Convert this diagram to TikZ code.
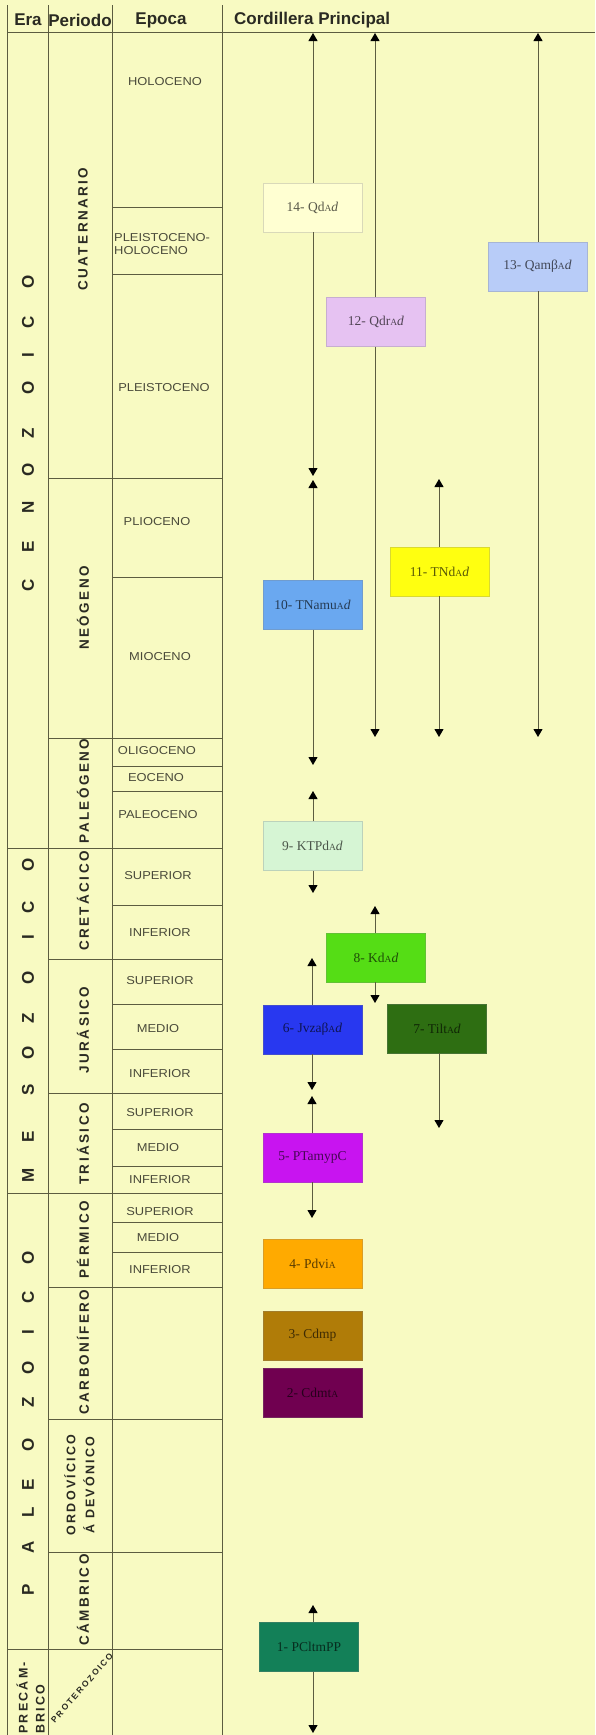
\documentclass[tikz,border=0pt]{standalone}
\usepackage{fontspec}
\setmainfont{Liberation Sans}
\newfontfamily\serifL{Liberation Serif}
\newfontfamily\perfont[LetterSpace=18]{Liberation Sans}
\newfontfamily\protfont[LetterSpace=22]{Liberation Sans}
\newfontfamily\epfont[FakeStretch=1.12]{Liberation Sans}
\usetikzlibrary{arrows.meta}
\definecolor{bgc}{HTML}{F8FAC2}
\definecolor{linec}{HTML}{5C5C40}
\definecolor{txtc}{HTML}{2A2A22}
\definecolor{eptc}{HTML}{4A4A3A}
\definecolor{c14}{HTML}{FFFFD2}
\definecolor{c12}{HTML}{E6C2F2}
\definecolor{c13}{HTML}{B8CCF8}
\definecolor{c10}{HTML}{6AA8F0}
\definecolor{c11}{HTML}{FFFF10}
\definecolor{c9}{HTML}{D6F5D4}
\definecolor{c8}{HTML}{55DD15}
\definecolor{c6}{HTML}{2838F0}
\definecolor{c7}{HTML}{2E6E12}
\definecolor{c5}{HTML}{C814F0}
\definecolor{c4}{HTML}{FFAA00}
\definecolor{c3}{HTML}{B07C08}
\definecolor{c2}{HTML}{700050}
\definecolor{c1}{HTML}{138058}
\newcommand\sA{{\fontsize{9.5}{9.5}\selectfont A}}
\tikzset{
  grid/.style={draw=linec, line width=0.8pt},
  hdr/.style={font=\fontsize{17}{17}\selectfont\bfseries, text=txtc, inner sep=0pt},
  eraL/.style={font=\fontsize{17}{17}\selectfont\bfseries, text=txtc, rotate=90, inner sep=0pt},
  perL/.style={font=\perfont\fontsize{13.5}{16}\selectfont\bfseries, text=txtc, rotate=90, inner sep=0pt, align=center},
  epL/.style={font=\epfont\fontsize{11.5}{13}\selectfont, text=eptc, inner sep=0pt},
  box/.style={draw=#1!70!gray, fill=#1, minimum width=99pt, minimum height=49pt, inner sep=0pt,
     font=\serifL\fontsize{13.5}{13.5}\selectfont, text=#1!35!black},
  arr/.style={draw=linec, line width=1pt, -{Triangle[width=9pt,length=8pt,color=black]}},
}
\begin{document}
\begin{tikzpicture}[x=1pt,y=-1pt]
\useasboundingbox (0,0) rectangle (595,1735);
\fill[bgc] (0,0) rectangle (595,1735);
% vertical grid lines
\draw[grid] (7,5) -- (7,1735);
\draw[grid] (48,5) -- (48,1735);
\draw[grid] (112,5) -- (112,1735);
\draw[grid] (222,5) -- (222,1735);
% header line
\draw[grid] (7,32) -- (595,32);
% era boundaries
\foreach \y in {848,1193,1649} \draw[grid] (7,\y) -- (222,\y);
% period boundaries
\foreach \y in {478,738,959,1093,1287,1419,1552} \draw[grid] (48,\y) -- (222,\y);
% epoch boundaries
\foreach \y in {207,274,577,766,791,905,1004,1049,1129,1166,1222,1252} \draw[grid] (112,\y) -- (222,\y);
% headers
\node[hdr] (hEra) at (28,20) {Era};
\node[hdr] (hPer) at (80,20) {Periodo};
\node[hdr] (hEp) at (161,20) {Epoca};
\node[hdr, anchor=west] (hCor) at (234,20) {Cordillera Principal};
% era letters
\foreach \l/\y [count=\i] in {C/585,E/547,N/507,O/470,Z/433,O/388,I/355,C/322,O/282}
  \node[eraL] (cz\i) at (28,\y) {\l};
\foreach \l/\y [count=\i] in {M/1175,E/1137,S/1090,O/1053,Z/1018,O/978,I/937,C/907,O/865}
  \node[eraL] (mz\i) at (28,\y) {\l};
\foreach \l/\y [count=\i] in {P/1590,A/1547,L/1512,E/1485,O/1445,Z/1402,O/1368,I/1332,C/1297,O/1258}
  \node[eraL] (pz\i) at (28,\y) {\l};
\node[perL, anchor=south west, font=\perfont\fontsize{12.5}{14}\selectfont\bfseries] (prec1) at (28,1734) {PRECÁM-};
\node[perL, anchor=south west, font=\perfont\fontsize{12.5}{14}\selectfont\bfseries] (prec2) at (45,1734) {BRICO};
% periods
\node[perL] (pCua) at (83,229) {CUATERNARIO};
\node[perL] (pNeo) at (83,608) {NEÓGENO};
\node[perL] (pPal) at (83,791) {PALEÓGENO};
\node[perL] (pCre) at (83,901) {CRETÁCICO};
\node[perL] (pJur) at (83,1030) {JURÁSICO};
\node[perL] (pTri) at (83,1144) {TRIÁSICO};
\node[perL] (pPer) at (83,1240) {PÉRMICO};
\node[perL] (pCar) at (83,1352) {CARBONÍFERO};
\node[perL, font=\perfont\fontsize{12.5}{14}\selectfont\bfseries] (pOrd1) at (70,1485) {ORDOVÍCICO};
\node[perL, font=\perfont\fontsize{12.5}{14}\selectfont\bfseries] (pOrd2) at (89,1485) {Á DEVÓNICO};
\node[perL] (pCam) at (83,1600) {CÁMBRICO};
\node[font=\protfont\fontsize{8.5}{9}\selectfont\bfseries, text=txtc, rotate=49, inner sep=0pt] (pPro) at (82,1688) {PROTEROZOICO};
% epochs
\node[epL] (e1) at (165,82) {HOLOCENO};
\node[epL, anchor=west, align=left] (e2) at (114,244) {PLEISTOCENO-\\HOLOCENO};
\node[epL] (e3) at (164,388) {PLEISTOCENO};
\node[epL] (e4) at (157,522) {PLIOCENO};
\node[epL] (e5) at (160,657) {MIOCENO};
\node[epL] (e6) at (157,751) {OLIGOCENO};
\node[epL] (e7) at (156,778) {EOCENO};
\node[epL] (e8) at (158,815) {PALEOCENO};
\node[epL] (e9) at (158,876) {SUPERIOR};
\node[epL] (e10) at (160,933) {INFERIOR};
\node[epL] (e11) at (160,981) {SUPERIOR};
\node[epL] (e12) at (158,1029) {MEDIO};
\node[epL] (e13) at (160,1074) {INFERIOR};
\node[epL] (e14) at (160,1113) {SUPERIOR};
\node[epL] (e15) at (158,1148) {MEDIO};
\node[epL] (e16) at (160,1180) {INFERIOR};
\node[epL] (e17) at (160,1212) {SUPERIOR};
\node[epL] (e18) at (158,1238) {MEDIO};
\node[epL] (e19) at (160,1270) {INFERIOR};
% boxes
\node[box=c14] (b14) at (312.5,207.5) {14- Qd\sA\textit{d}};
\node[box=c12] (b12) at (376,322) {12- Qdr\sA\textit{d}};
\node[box=c13] (b13) at (537.5,266.5) {13- Qamβ\sA\textit{d}};
\node[box=c10] (b10) at (312.5,605) {10- TNamu\sA\textit{d}};
\node[box=c11] (b11) at (439.5,571.5) {11- TNd\sA\textit{d}};
\node[box=c9] (b9) at (312.5,846) {9- KTPd\sA\textit{d}};
\node[box=c8] (b8) at (376,957.5) {8- Kd\sA\textit{d}};
\node[box=c6] (b6) at (312.5,1029.5) {6- Jvzaβ\sA\textit{d}};
\node[box=c7] (b7) at (437,1028.5) {7- Tilt\sA\textit{d}};
\node[box=c5] (b5) at (312.5,1157.5) {5- PTamypC};
\node[box=c4] (b4) at (312.5,1264) {4- Pdvi\sA};
\node[box=c3] (b3) at (312.5,1335.5) {3- Cdmp};
\node[box=c2] (b2) at (312.5,1392.5) {2- Cdmt\sA};
\node[box=c1] (b1) at (309,1647) {1- PCltmPP};
% arrow end points
\coordinate (t14) at (313,33);  \coordinate (d14) at (313,476);
\coordinate (t12) at (375,33);  \coordinate (d12) at (375,737);
\coordinate (t13) at (538,33);  \coordinate (d13) at (538,737);
\coordinate (t10) at (313,480); \coordinate (d10) at (313,765);
\coordinate (t11) at (439,479); \coordinate (d11) at (439,737);
\coordinate (t9) at (313,791);  \coordinate (d9) at (313,893);
\coordinate (t8) at (375,906);  \coordinate (d8) at (375,1003);
\coordinate (t6) at (312,958);  \coordinate (d6) at (312,1090);
\coordinate (d7) at (439,1128);
\coordinate (t5) at (312,1096); \coordinate (d5) at (312,1218);
\coordinate (t1) at (313,1605); \coordinate (d1) at (313,1733);
% connectors
\foreach \n in {14,12,13,10,11,9,8,6,5,1} {
  \draw[arr] (b\n.north -| t\n) -- (t\n);
  \draw[arr] (b\n.south -| d\n) -- (d\n);
}
\draw[arr] (b7.south -| d7) -- (d7);
\end{tikzpicture}
\end{document}
